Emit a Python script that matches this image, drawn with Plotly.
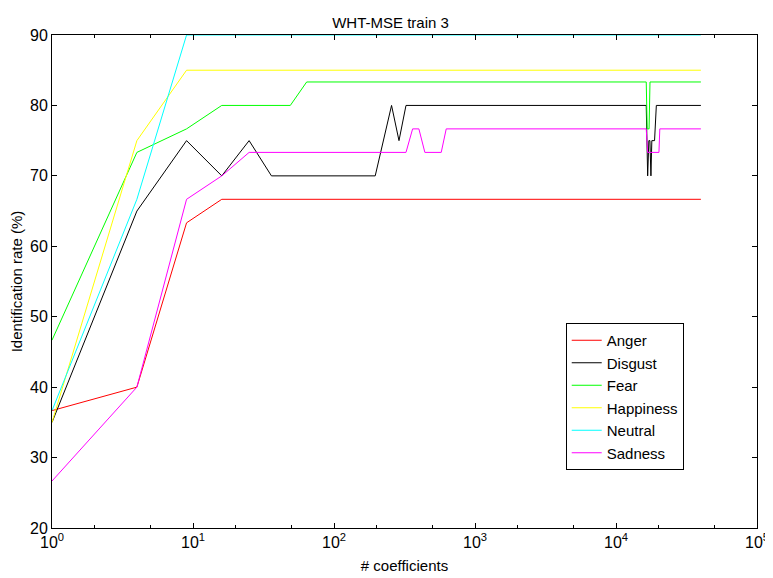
import plotly.graph_objects as go

# x: number of coefficients (breakpoints)
anger_x = [1, 4, 9, 16, 40000]
anger_y = [36.67, 40, 63.33, 66.67, 66.67]

disgust_x = [1, 4, 9, 16, 25, 36, 196, 256, 289, 324, 16384, 16770, 17100, 17400, 17689, 17956, 18769, 19321, 40000]
disgust_y = [35, 65, 75, 70, 75, 70, 70, 80, 75, 80, 80, 70, 75, 75, 70, 75, 75, 80, 80]

fear_x = [1, 4, 9, 16, 49, 64, 16384, 16641, 17161, 17424, 40000]
fear_y = [46.67, 73.33, 76.67, 80, 80, 83.33, 83.33, 76.67, 76.67, 83.33, 83.33]

happiness_x = [1, 4, 9, 40000]
happiness_y = [35, 75, 85, 85]

neutral_x = [1, 4, 9, 40000]
neutral_y = [36.67, 66.67, 90, 90]

sadness_x = [1, 4, 9, 16, 25, 324, 361, 400, 441, 576, 625, 16384, 16770, 20164, 20449, 40000]
sadness_y = [26.67, 40, 66.67, 70, 73.33, 73.33, 76.67, 76.67, 73.33, 73.33, 76.67, 76.67, 73.33, 73.33, 76.67, 76.67]

series = [
    ("Anger", anger_x, anger_y, "#ff0000"),
    ("Disgust", disgust_x, disgust_y, "#000000"),
    ("Fear", fear_x, fear_y, "#00ff00"),
    ("Happiness", happiness_x, happiness_y, "#ffff00"),
    ("Neutral", neutral_x, neutral_y, "#00ffff"),
    ("Sadness", sadness_x, sadness_y, "#ff00ff"),
]

x_tickvals = [1, 10, 100, 1000, 10000, 100000]
x_ticktext = ["10<sup>0</sup>", "10<sup>1</sup>", "10<sup>2</sup>", "10<sup>3</sup>", "10<sup>4</sup>", "10<sup>5</sup>"]
y_tickvals = [20, 30, 40, 50, 60, 70, 80, 90]

fig = go.Figure()
for name, xs, ys, col in series:
    fig.add_trace(go.Scatter(x=xs, y=ys, mode="lines", name=name,
                             line=dict(color=col, width=1)))

font_family = "Liberation Sans, Arial, Helvetica, sans-serif"
fig.update_layout(
    width=765, height=570,
    margin=dict(l=44, r=16, t=27, b=50, autoexpand=False),
    paper_bgcolor="white", plot_bgcolor="white",
    font=dict(family=font_family, size=15, color="black"),
    title=dict(text="WHT-MSE train 3", x=0.5, xanchor="center", y=0.984, yanchor="top",
               font=dict(size=15), automargin=False),
    showlegend=True,
    legend=dict(x=0.7287, y=0.4158, xanchor="left", yanchor="top",
                bordercolor="black", borderwidth=1, bgcolor="white",
                font=dict(size=15), tracegroupgap=0, itemwidth=30),
)
fig.update_xaxes(type="log", range=[0, 5], tickvals=x_tickvals, ticktext=x_ticktext,
                 automargin=False, tickfont=dict(size=16),
                 ticks="inside", ticklen=5, tickcolor="black", showline=True,
                 linecolor="black", linewidth=1, mirror="ticks", showgrid=False,
                 zeroline=False,
                 minor=dict(ticks="inside", ticklen=3, tickcolor="black", showgrid=False),
                 title=dict(text="# coefficients", standoff=10, font=dict(size=15)))
fig.update_yaxes(range=[20, 90], tickvals=y_tickvals, ticks="inside", ticklen=5,
                 automargin=False, tickfont=dict(size=16),
                 tickcolor="black", showline=True, linecolor="black", linewidth=1,
                 mirror="ticks", showgrid=False, zeroline=False,
                 title=dict(text="Identification rate (%)", standoff=6, font=dict(size=15)))

fig.write_html("out.html")
